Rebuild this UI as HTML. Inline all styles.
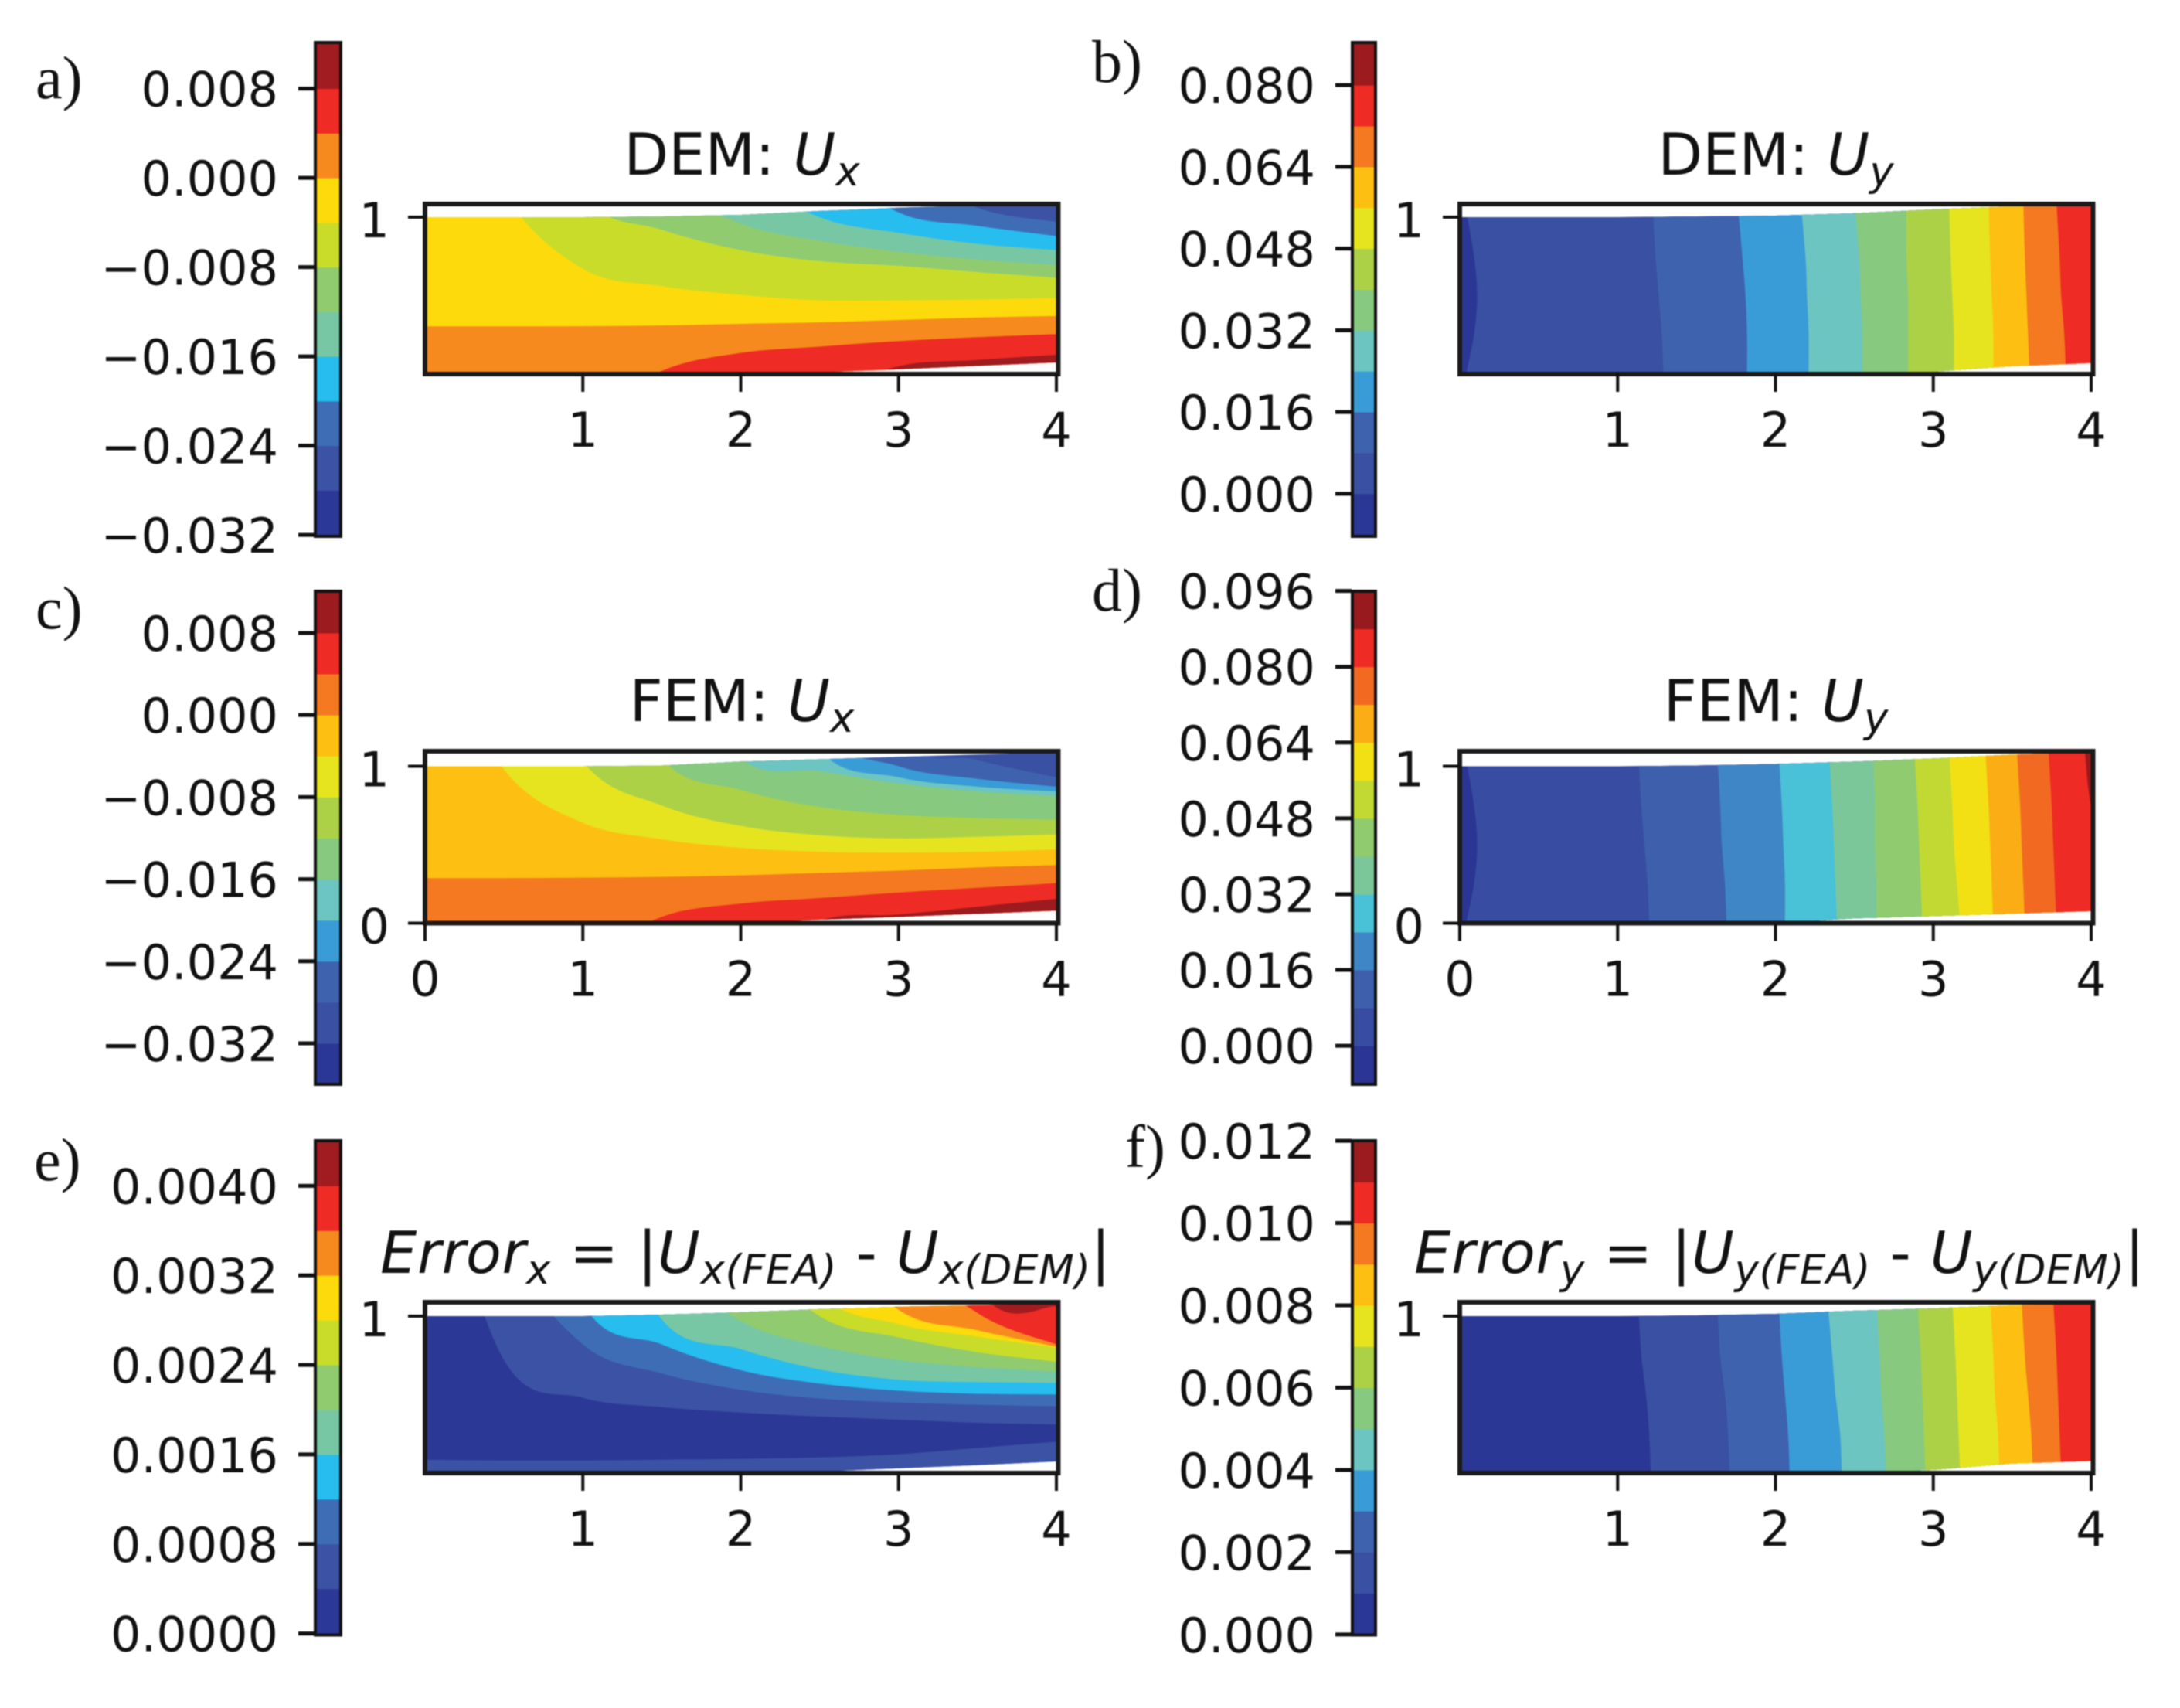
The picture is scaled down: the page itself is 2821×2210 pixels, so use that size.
<!DOCTYPE html>
<html>
<head>
<meta charset="utf-8">
<title>DEM and FEM displacement contour comparison</title>
<style>
html,body{margin:0;padding:0;background:#fff;}
svg{display:block;filter:blur(0.8px);}
text{font-family:"DejaVu Sans","Liberation Sans",sans-serif;fill:#111;white-space:pre;}
.plabel{font-family:"Liberation Serif",serif;font-size:78px;}
.title{font-size:75px;}
.it{font-style:italic;}
.sub{font-size:53px;font-style:italic;}
</style>
</head>
<body>
<svg id="chart" xmlns="http://www.w3.org/2000/svg" width="2821" height="2210" viewBox="0 0 2821 2210">
<rect width="2821" height="2210" fill="#fff"/>
<text class="plabel" x="46" y="127">a)</text>
<text class="plabel" x="1413" y="106">b)</text>
<text class="plabel" x="46" y="813">c)</text>
<text class="plabel" x="1413" y="790">d)</text>
<text class="plabel" x="44" y="1527">e)</text>
<text class="plabel" x="1456" y="1510">f)</text>

<text class="title" x="960" y="226" text-anchor="middle">DEM: <tspan class="it">U</tspan><tspan class="sub" dy="14">x</tspan></text>
<text class="title" x="2298" y="226" text-anchor="middle">DEM: <tspan class="it">U</tspan><tspan class="sub" dy="14">y</tspan></text>
<text class="title" x="960" y="933" text-anchor="middle">FEM: <tspan class="it">U</tspan><tspan class="sub" dy="14">x</tspan></text>
<text class="title" x="2298" y="933" text-anchor="middle">FEM: <tspan class="it">U</tspan><tspan class="sub" dy="14">y</tspan></text>
<text class="title" x="492" y="1647" textLength="945"><tspan class="it">Error</tspan><tspan class="sub" dy="14">x</tspan><tspan dy="-14"> = |</tspan><tspan class="it">U</tspan><tspan class="sub" dy="14">x(FEA)</tspan><tspan dy="-14"> - </tspan><tspan class="it">U</tspan><tspan class="sub" dy="14">x(DEM)</tspan><tspan dy="-14">|</tspan></text>
<text class="title" x="1830" y="1647" textLength="945"><tspan class="it">Error</tspan><tspan class="sub" dy="14">y</tspan><tspan dy="-14"> = |</tspan><tspan class="it">U</tspan><tspan class="sub" dy="14">y(FEA)</tspan><tspan dy="-14"> - </tspan><tspan class="it">U</tspan><tspan class="sub" dy="14">y(DEM)</tspan><tspan dy="-14">|</tspan></text>
</svg>
<script>
// Shared sample positions (data units)
const xSamples = [0, 0.5, 1, 1.5, 2, 2.5, 3, 3.5, 4];
const ySamples = [0, 0.25, 0.5, 0.75, 1.1];

// Panel a: DEM Ux
const aLevels = [-0.032,-0.028,-0.024,-0.020,-0.016,-0.012,-0.008,-0.004,0,0.004,0.008,0.012];
const aRange = [-0.0322, 0.0122];
const aCbTicks = [0.008,0,-0.008,-0.016,-0.024,-0.032];
const aCbLabels = ["0.008","0.000","\u22120.008","\u22120.016","\u22120.024","\u22120.032"];
const aTop = [1,1,1,1.005,1.015,1.04,1.06,1.075,1.085];
const aBottom = [0,0,0,0,0,0.012,0.03,0.052,0.074];
const aBase = -0.028;
const aContourLevels = [-0.024,-0.020,-0.016,-0.012,-0.008,-0.004,0,0.004,0.008];
const aContours = [
  [3,3,3,3,3,2.4,1.35,1.06,0.97],
  [3,3,3,3,2,1.4,1.03,0.945,0.88],
  [3,3,3,2,1.3,1.0,0.90,0.83,0.79],
  [3,2.5,2,1.25,0.96,0.85,0.78,0.73,0.695],
  [2.5,2,1.12,0.92,0.79,0.72,0.69,0.65,0.615],
  [2.2,1.15,0.67,0.56,0.505,0.47,0.47,0.475,0.485],
  [0.304,0.304,0.305,0.31,0.32,0.33,0.345,0.36,0.37],
  [-1,-0.7,-0.3,0.02,0.135,0.175,0.21,0.235,0.255],
  [-1,-1,-1,-1,-0.5,-0.15,0.05,0.09,0.123]
];

// Panel b: DEM Uy
const bLevels = [-0.008,0,0.008,0.016,0.024,0.032,0.040,0.048,0.056,0.064,0.072,0.080,0.088];
const bRange = [-0.0085, 0.0885];
const bCbTicks = [0.080,0.064,0.048,0.032,0.016,0];
const bCbLabels = ["0.080","0.064","0.048","0.032","0.016","0.000"];
const bTop = [1,1,1,1.005,1.01,1.025,1.05,1.07,1.08];
const bBottom = [0,0,0,0,0,0,0.015,0.05,0.07];
const bBase = -0.008;
const bContourLevels = [0,0.008,0.016,0.024,0.032,0.040,0.048,0.056,0.064,0.072];
const bContours = [
  [0.04,0.09,0.11,0.09,0.03],
  [1.29,1.28,1.26,1.24,1.22],
  [1.82,1.82,1.81,1.79,1.76],
  [2.21,2.21,2.20,2.19,2.16],
  [2.55,2.55,2.54,2.53,2.50],
  [2.84,2.84,2.84,2.83,2.83],
  [3.13,3.13,3.12,3.11,3.10],
  [3.38,3.38,3.37,3.36,3.35],
  [3.61,3.60,3.59,3.58,3.57],
  [3.84,3.83,3.81,3.80,3.78]
];

// Panel c: FEM Ux
const cLevels = [-0.036,-0.032,-0.028,-0.024,-0.020,-0.016,-0.012,-0.008,-0.004,0,0.004,0.008,0.012];
const cRange = [-0.03607, 0.01214];
const cCbTicks = [0.008,0,-0.008,-0.016,-0.024,-0.032];
const cCbLabels = ["0.008","0.000","\u22120.008","\u22120.016","\u22120.024","\u22120.032"];
const cTop = [1,1,1,1.005,1.03,1.045,1.06,1.075,1.09];
const cBottom = [0,0,0,0,0,0.022,0.04,0.06,0.08];
const cBase = -0.032;
const cContourLevels = [-0.028,-0.024,-0.020,-0.016,-0.012,-0.008,-0.004,0,0.004,0.008];
const cContours = [
  [3,3,3,3,3,2.4,1.2,1.04,0.93],
  [3,3,3,3,2.4,1.25,1.0,0.92,0.87],
  [3,3,3,3,2,1.1,0.93,0.87,0.84],
  [3,3,2.6,1.8,1.05,0.97,0.89,0.84,0.81],
  [3,2.6,2,1.05,0.85,0.74,0.69,0.67,0.66],
  [2.8,2,1.03,0.75,0.62,0.56,0.54,0.55,0.565],
  [1.9,0.98,0.64,0.535,0.48,0.455,0.45,0.455,0.47],
  [0.287,0.287,0.29,0.295,0.305,0.32,0.335,0.355,0.37],
  [-1,-0.7,-0.25,0.04,0.125,0.16,0.195,0.225,0.255],
  [-1,-1,-1,-1,-0.3,0.015,0.055,0.105,0.155]
];

// Panel d: FEM Uy
const dLevels = [-0.008,0,0.008,0.016,0.024,0.032,0.040,0.048,0.056,0.064,0.072,0.080,0.088,0.096];
const dRange = [-0.0083, 0.0961];
const dCbTicks = [0.096,0.080,0.064,0.048,0.032,0.016,0];
const dCbLabels = ["0.096","0.080","0.064","0.048","0.032","0.016","0.000"];
const dTop = [1,1,1,1.005,1.015,1.03,1.05,1.075,1.09];
const dBottom = [0,0,0,0,0,0.03,0.045,0.06,0.077];
const dBase = -0.008;
const dContourLevels = [0,0.008,0.016,0.024,0.032,0.040,0.048,0.056,0.064,0.072,0.080,0.088];
const dContours = [
  [0.04,0.09,0.11,0.09,0.03],
  [1.20,1.19,1.17,1.15,1.13],
  [1.69,1.68,1.66,1.65,1.63],
  [2.06,2.06,2.05,2.04,2.02],
  [2.39,2.38,2.37,2.36,2.34],
  [2.64,2.64,2.63,2.63,2.62],
  [2.93,2.92,2.91,2.90,2.88],
  [3.17,3.15,3.13,3.12,3.10],
  [3.38,3.37,3.36,3.35,3.33],
  [3.58,3.57,3.56,3.55,3.53],
  [3.78,3.77,3.76,3.75,3.73],
  [4.2,4.2,4.1,4.0,3.96]
];

// Panel e: Error x
const eLevels = [0,0.0004,0.0008,0.0012,0.0016,0.0020,0.0024,0.0028,0.0032,0.0036,0.0040,0.0044];
const eRange = [-0.00002, 0.00441];
const eCbTicks = [0.0040,0.0032,0.0024,0.0016,0.0008,0];
const eCbLabels = ["0.0040","0.0032","0.0024","0.0016","0.0008","0.0000"];
const eTop = [1,1,1,1.01,1.025,1.045,1.06,1.07,1.08];
const eBottom = [0,0,0,0,0,0.01,0.03,0.05,0.074];
const eBase = 0;
const eContourLevels = [0.0004,0.0008,0.0012,0.0016,0.0020,0.0024,0.0028,0.0032,0.0036,0.0040];
const eContours = [
  [2.2,0.72,0.48,0.42,0.385,0.36,0.34,0.32,0.31],
  [3,1.5,0.82,0.635,0.53,0.475,0.45,0.435,0.425],
  [3.5,2.5,1.08,0.82,0.655,0.57,0.525,0.505,0.50],
  [4,3,2,0.98,0.79,0.66,0.595,0.58,0.575],
  [4,3,2.5,1.4,0.97,0.81,0.72,0.675,0.647],
  [4,3,3,2.5,1.5,1.0,0.865,0.77,0.71],
  [4,3,3,3,2,1.15,0.95,0.87,0.80],
  [4,3,3,3,3,1.6,1.04,0.91,0.805],
  [4,3,3,3,3,3,1.5,1.02,0.82],
  [4,3,3,3,3,3,3,1.2,1.06]
];
const eLowerContourLevels = [0.0004];
const eLowerContours = [
  [0.085,0.08,0.08,0.085,0.09,0.10,0.12,0.16,0.20]
];

// Panel f: Error y
const fLevels = [0,0.001,0.002,0.003,0.004,0.005,0.006,0.007,0.008,0.009,0.010,0.011,0.012];
const fRange = [-0.00003, 0.01202];
const fCbTicks = [0.012,0.010,0.008,0.006,0.004,0.002,0];
const fCbLabels = ["0.012","0.010","0.008","0.006","0.004","0.002","0.000"];
const fTop = [1,1,1,1.005,1.015,1.035,1.05,1.07,1.083];
const fBottom = [0,0,0,0,0,0,0.02,0.06,0.077];
const fBase = 0;
const fContourLevels = [0.001,0.002,0.003,0.004,0.005,0.006,0.007,0.008,0.009,0.010];
const fContours = [
  [1.21,1.20,1.18,1.15,1.13],
  [1.71,1.70,1.68,1.65,1.63],
  [2.09,2.08,2.06,2.04,2.02],
  [2.42,2.41,2.38,2.36,2.33],
  [2.70,2.69,2.67,2.66,2.64],
  [2.95,2.94,2.93,2.92,2.90],
  [3.17,3.16,3.15,3.14,3.12],
  [3.42,3.41,3.39,3.38,3.36],
  [3.63,3.62,3.60,3.58,3.56],
  [3.81,3.80,3.79,3.78,3.76]
];

// Axis ticks
const xTicksShort = [1,2,3,4];
const xTicksFull = [0,1,2,3,4];
const yTicksShort = [1];
const yTicksFull = [0,1];

// Colormap stops (style)
const cmap = [[0,"#1f2680"],[0.04,"#2b3694"],[0.125,"#3a50a3"],[0.208,"#3e62ae"],[0.269,"#3f86c6"],[0.29,"#3a9ad6"],[0.318,"#27bdee"],[0.375,"#6cc5c0"],[0.458,"#87c97e"],[0.5,"#90cb70"],[0.54,"#abd147"],[0.591,"#c9dc2a"],[0.625,"#e6e41e"],[0.68,"#fddc0c"],[0.708,"#fdc012"],[0.773,"#f78a1e"],[0.808,"#f26a21"],[0.864,"#ee2b24"],[0.885,"#ee2b24"],[0.955,"#a01c20"],[1,"#6d1013"]];

const NS = "http://www.w3.org/2000/svg";
const svg = document.getElementById("chart");
const X_UNIT = 204.25, Y_UNIT = 203;

function hex2rgb(h){return [1,3,5].map(i=>parseInt(h.substr(i,2),16));}
function colorAt(t){
  for(let i=1;i<cmap.length;i++){
    if(t<=cmap[i][0]){
      const a=cmap[i-1],b=cmap[i],f=(t-a[0])/(b[0]-a[0]);
      const ca=hex2rgb(a[1]),cb=hex2rgb(b[1]);
      return "rgb("+ca.map((v,k)=>Math.round(v+(cb[k]-v)*f)).join(",")+")";
    }
  }
  return cmap[cmap.length-1][1];
}
function bandColor(levels,value){
  let idx=0,best=1e9;
  levels.forEach((l,i)=>{const d=Math.abs(l-value);if(d<best){best=d;idx=i;}});
  return colorAt((idx+0.5)/(levels.length-1));
}
function mk(tag,parent,attrs){
  const n=document.createElementNS(NS,tag);
  for(const k in attrs)n.setAttribute(k,attrs[k]);
  parent.appendChild(n);
  return n;
}
function smoothPath(pts){
  let d="M"+pts[0][0].toFixed(1)+" "+pts[0][1].toFixed(1);
  for(let i=0;i<pts.length-1;i++){
    const p0=pts[Math.max(i-1,0)],p1=pts[i],p2=pts[i+1],p3=pts[Math.min(i+2,pts.length-1)];
    const c1=[p1[0]+(p2[0]-p0[0])/6,p1[1]+(p2[1]-p0[1])/6];
    const c2=[p2[0]-(p3[0]-p1[0])/6,p2[1]-(p3[1]-p1[1])/6];
    d+="C"+c1[0].toFixed(1)+" "+c1[1].toFixed(1)+" "+c2[0].toFixed(1)+" "+c2[1].toFixed(1)+" "+p2[0].toFixed(1)+" "+p2[1].toFixed(1);
  }
  return d;
}

function drawPanel(p){
  const g=mk("g",svg,{});
  
  

  // Colorbar
  const cbScale=v=>p.cbBottom-(v-p.range[0])/(p.range[1]-p.range[0])*(p.cbBottom-p.cbTop);
  const cb=mk("g",g,{});
  
  
  const n=p.levels.length-1;
  for(let i=0;i<n;i++){
    const lo=i===0?p.range[0]:p.levels[i];
    const hi=i===n-1?p.range[1]:p.levels[i+1];
    const r=mk("rect",cb,{x:p.cbX,y:cbScale(hi),width:p.cbW,height:cbScale(lo)-cbScale(hi)+0.5,fill:colorAt((i+0.5)/n)});
    
    
  }
  const cbBox=mk("rect",cb,{x:p.cbX+1,y:p.cbTop+1,width:p.cbW-2,height:p.cbBottom-p.cbTop-2,fill:"none",stroke:"#111","stroke-width":4});
  
  
  p.cbTicks.forEach((v,i)=>{
    const y=cbScale(v);
    const t=mk("line",cb,{x1:p.cbX-21,x2:p.cbX,y1:y,y2:y,stroke:"#111","stroke-width":5});
    
    
    const l=mk("text",cb,{x:p.cbX-47,y:y+23,"text-anchor":"end","font-size":62});
    
    
    l.textContent=p.cbLabels[i];
  });

  // Axes scales
  const xPx=v=>p.x0+v*X_UNIT;
  const yPx=v=>p.y0-v*Y_UNIT;
  const left=xPx(0), right=xPx(4.012), top=p.axTop, bottom=p.y0;

  const clipId="clip-"+p.id;
  const defs=mk("defs",g,{});
  const cp=mk("clipPath",defs,{id:clipId});
  let poly=xSamples.map((x,i)=>xPx(x).toFixed(1)+","+yPx(p.topEdge[i]).toFixed(1));
  for(let i=xSamples.length-1;i>=0;i--)poly.push(xPx(xSamples[i]).toFixed(1)+","+yPx(p.bottomEdge[i]).toFixed(1));
  mk("polygon",cp,{points:poly.join(" ")});

  const field=mk("g",g,{"clip-path":"url(#"+clipId+")"});
  
  
  const base=mk("rect",field,{x:left,y:top-20,width:right-left,height:bottom-top+40,fill:bandColor(p.levels,p.base)});
  
  

  function fillCurves(levels,curves,dir){
    curves.forEach((c,i)=>{
      let d;
      if(dir==="right"){
        const pts=c.map((v,j)=>[xPx(v),yPx(ySamples[j])]);
        d=smoothPath(pts)+"L"+xPx(4.6)+" "+yPx(1.1)+"L"+xPx(4.6)+" "+yPx(0)+"Z";
      }else{
        const pts=c.map((v,j)=>[xPx(xSamples[j]),yPx(v)]);
        const edge=dir==="below"?yPx(-1.5):yPx(5);
        d=smoothPath(pts)+"L"+xPx(4)+" "+edge+"L"+xPx(0)+" "+edge+"Z";
      }
      const a=mk("path",field,{d:d,fill:bandColor(p.levels,levels[i])});
      
      
    });
  }
  if(p.lowerLevels)fillCurves(p.lowerLevels,p.lowerContours,"below");
  fillCurves(p.contourLevels,p.contours,p.dir);

  // Frame and ticks
  const frame=mk("rect",g,{x:left,y:top,width:right-left,height:bottom-top,fill:"none",stroke:"#1a1a1a","stroke-width":6});
  
  
  p.xTicks.forEach(v=>{
    const x=xPx(v);
    const t=mk("line",g,{x1:x,x2:x,y1:bottom,y2:bottom+23,stroke:"#111","stroke-width":4});
    
    
    const l=mk("text",g,{x:x,y:bottom+94,"text-anchor":"middle","font-size":62});
    
    
    l.textContent=String(v);
  });
  p.yTicks.forEach(v=>{
    const y=yPx(v);
    const t=mk("line",g,{x1:left-22,x2:left,y1:y,y2:y,stroke:"#111","stroke-width":4});
    
    
    const l=mk("text",g,{x:left-46,y:y+26,"text-anchor":"end","font-size":62});
    
    
    l.textContent=String(v);
  });
}

const panels=[
 {id:"a",cbX:407,cbW:35,cbTop:54,cbBottom:695,x0:550,y0:484,axTop:264,levels:aLevels,range:aRange,cbTicks:aCbTicks,cbLabels:aCbLabels,topEdge:aTop,bottomEdge:aBottom,base:aBase,contourLevels:aContourLevels,contours:aContours,dir:"below",xTicks:xTicksShort,yTicks:yTicksShort},
 {id:"b",cbX:1749,cbW:32,cbTop:54,cbBottom:695,x0:1889,y0:484,axTop:264,levels:bLevels,range:bRange,cbTicks:bCbTicks,cbLabels:bCbLabels,topEdge:bTop,bottomEdge:bBottom,base:bBase,contourLevels:bContourLevels,contours:bContours,dir:"right",xTicks:xTicksShort,yTicks:yTicksShort},
 {id:"c",cbX:407,cbW:35,cbTop:764,cbBottom:1404,x0:550,y0:1194.5,axTop:972,levels:cLevels,range:cRange,cbTicks:cCbTicks,cbLabels:cCbLabels,topEdge:cTop,bottomEdge:cBottom,base:cBase,contourLevels:cContourLevels,contours:cContours,dir:"below",xTicks:xTicksFull,yTicks:yTicksFull},
 {id:"d",cbX:1749,cbW:32,cbTop:764,cbBottom:1404,x0:1889,y0:1194.5,axTop:972,levels:dLevels,range:dRange,cbTicks:dCbTicks,cbLabels:dCbLabels,topEdge:dTop,bottomEdge:dBottom,base:dBase,contourLevels:dContourLevels,contours:dContours,dir:"right",xTicks:xTicksFull,yTicks:yTicksFull},
 {id:"e",cbX:407,cbW:35,cbTop:1475,cbBottom:2116.5,x0:550,y0:1906,axTop:1685,levels:eLevels,range:eRange,cbTicks:eCbTicks,cbLabels:eCbLabels,topEdge:eTop,bottomEdge:eBottom,base:eBase,contourLevels:eContourLevels,contours:eContours,lowerLevels:eLowerContourLevels,lowerContours:eLowerContours,dir:"above",xTicks:xTicksShort,yTicks:yTicksShort},
 {id:"f",cbX:1749,cbW:32,cbTop:1475,cbBottom:2116.5,x0:1889,y0:1906,axTop:1685,levels:fLevels,range:fRange,cbTicks:fCbTicks,cbLabels:fCbLabels,topEdge:fTop,bottomEdge:fBottom,base:fBase,contourLevels:fContourLevels,contours:fContours,dir:"right",xTicks:xTicksShort,yTicks:yTicksShort}
];
panels.forEach(drawPanel);
</script>
</body>
</html>
